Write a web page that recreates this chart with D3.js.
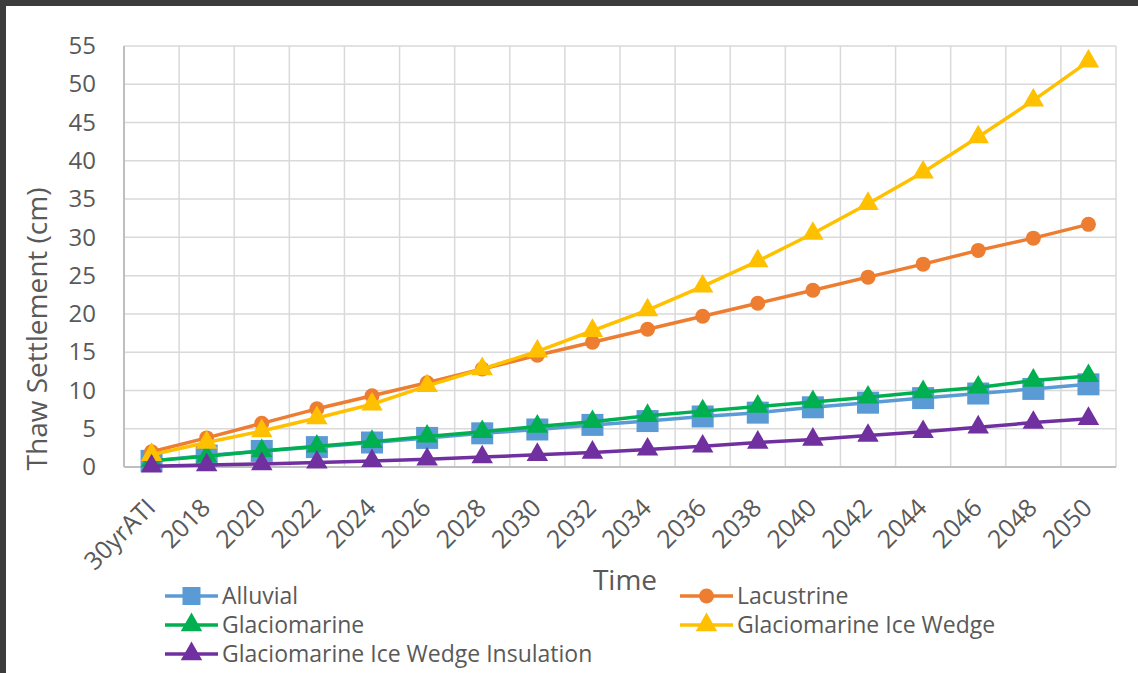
<!DOCTYPE html>
<html>
<head>
<meta charset="utf-8">
<script src="https://cdn.jsdelivr.net/npm/d3@7"></script>
<style>
  html, body { margin: 0; padding: 0; background: #fff; }
  body { width: 1138px; height: 673px; overflow: hidden; }
  svg { display: block; font-family: "Open Sans", "Noto Sans", sans-serif; }
</style>
</head>
<body>
<svg></svg>
<script>
const categories = ["30yrATI", "2018", "2020", "2022", "2024", "2026", "2028", "2030", "2032",
  "2034", "2036", "2038", "2040", "2042", "2044", "2046", "2048", "2050"];
const alluvial = [0.8, 1.5, 2.1, 2.6, 3.2, 3.8, 4.4, 4.9, 5.5, 6.0, 6.6, 7.1, 7.8, 8.4, 9.0, 9.6, 10.2, 10.8];
const lacustrine = [2.0, 3.8, 5.7, 7.6, 9.3, 11.0, 12.8, 14.6, 16.3, 18.0, 19.7, 21.4, 23.1, 24.8, 26.5, 28.3, 29.9, 31.7];
const glaciomarine = [0.8, 1.4, 2.1, 2.7, 3.3, 4.0, 4.6, 5.3, 5.9, 6.7, 7.3, 7.9, 8.5, 9.1, 9.8, 10.4, 11.3, 11.9];
const iceWedge = [1.6, 3.2, 4.7, 6.4, 8.2, 10.6, 12.8, 15.1, 17.8, 20.5, 23.6, 26.9, 30.5, 34.4, 38.5, 43.1, 47.9, 53.0];
const insulation = [0.1, 0.25, 0.4, 0.6, 0.8, 1.0, 1.3, 1.6, 1.9, 2.3, 2.7, 3.2, 3.6, 4.1, 4.6, 5.2, 5.8, 6.3];
const yTicks = [0, 5, 10, 15, 20, 25, 30, 35, 40, 45, 50, 55];

const series = [
  { name: "Alluvial", values: alluvial, color: "#5B9BD5", marker: "square" },
  { name: "Lacustrine", values: lacustrine, color: "#ED7D31", marker: "circle" },
  { name: "Glaciomarine", values: glaciomarine, color: "#00B050", marker: "triangle" },
  { name: "Glaciomarine Ice Wedge", values: iceWedge, color: "#FFC000", marker: "triangle" },
  { name: "Glaciomarine Ice Wedge Insulation", values: insulation, color: "#7030A0", marker: "triangle" }
];

const width = 1138, height = 673;
const margin = { top: 46, right: 22, bottom: 206, left: 124 };
const innerWidth = width - margin.left - margin.right;
const innerHeight = height - margin.top - margin.bottom;
const textColor = "#595959";

const svg = d3.select("svg").attr("width", width).attr("height", height);

// dark frame on top and left
svg.append("rect").attr("x", 0).attr("y", 0).attr("width", width).attr("height", 6).attr("fill", "#3c3c3c");
svg.append("rect").attr("x", 0).attr("y", 0).attr("width", 6).attr("height", height).attr("fill", "#3c3c3c");

const xScale = d3.scaleBand().domain(categories).range([0, innerWidth]);
const yScale = d3.scaleLinear().domain([0, 55]).range([innerHeight, 0]);
const xc = (d, i) => xScale(categories[i]) + xScale.bandwidth() / 2;

const chart = svg.append("g").attr("transform", `translate(${margin.left},${margin.top})`);

// horizontal grid
chart.append("g")
  .selectAll("line")
  .data(yTicks.slice(1))
  .join("line")
  .attr("x1", 0).attr("x2", innerWidth)
  .attr("y1", d => yScale(d)).attr("y2", d => yScale(d))
  .attr("stroke", "#d9d9d9").attr("stroke-width", 1.5);

// vertical grid at category boundaries
const boundaries = categories.slice(1).map(c => xScale(c)).concat([innerWidth]);
chart.append("g")
  .selectAll("line")
  .data(boundaries)
  .join("line")
  .attr("x1", d => d).attr("x2", d => d)
  .attr("y1", 0).attr("y2", innerHeight)
  .attr("stroke", "#d9d9d9").attr("stroke-width", 1.5);

// axes lines
chart.append("line").attr("x1", 0).attr("x2", 0).attr("y1", 0).attr("y2", innerHeight)
  .attr("stroke", "#bfbfbf").attr("stroke-width", 2);
chart.append("line").attr("x1", 0).attr("x2", innerWidth).attr("y1", innerHeight).attr("y2", innerHeight)
  .attr("stroke", "#bfbfbf").attr("stroke-width", 2);

// y axis labels
const yAxisG = chart.append("g")
  .call(d3.axisLeft(yScale).tickValues(yTicks).tickSize(0).tickPadding(28));
yAxisG.select(".domain").remove();
yAxisG.selectAll("text")
  .attr("fill", textColor)
  .style("font-size", "24px")
  .style("font-family", "'Open Sans', sans-serif");

// x axis labels
const xAxisG = chart.append("g").attr("transform", `translate(0,${innerHeight})`)
  .call(d3.axisBottom(xScale).tickSize(0).tickPadding(0));
xAxisG.select(".domain").remove();
xAxisG.selectAll("text")
  .attr("fill", textColor)
  .style("font-size", "25px")
  .style("font-family", "'Open Sans', sans-serif")
  .attr("text-anchor", "end")
  .attr("dy", "0")
  .attr("y", 0)
  .attr("transform", "translate(-10,27) rotate(-45)")
  .attr("dominant-baseline", "hanging");

// axis titles
svg.append("text")
  .attr("transform", "translate(47,329) rotate(-90)")
  .attr("text-anchor", "middle")
  .attr("fill", textColor)
  .style("font-size", "28px")
  .text("Thaw Settlement (cm)");

svg.append("text")
  .attr("x", 625).attr("y", 590)
  .attr("text-anchor", "middle")
  .attr("fill", textColor)
  .style("font-size", "28px")
  .text("Time");

function drawMarker(g, type, color) {
  if (type === "square") {
    g.append("rect").attr("x", -11).attr("y", -11).attr("width", 22).attr("height", 22).attr("fill", color);
  } else if (type === "circle") {
    g.append("circle").attr("r", 7.5).attr("fill", color);
  } else {
    g.append("path").attr("d", d3.symbol(d3.symbolTriangle, 200)()).attr("fill", color);
  }
}

const line = d3.line().x(xc).y(d => yScale(d));

series.forEach(s => {
  const g = chart.append("g");
  g.append("path")
    .datum(s.values)
    .attr("d", line)
    .attr("fill", "none")
    .attr("stroke", s.color)
    .attr("stroke-width", 3.5)
    .attr("stroke-linejoin", "round");
  g.selectAll("g.m")
    .data(s.values)
    .join("g")
    .attr("class", "m")
    .attr("transform", (d, i) => `translate(${xc(d, i)},${yScale(d)})`)
    .each(function () { drawMarker(d3.select(this), s.marker, s.color); });
});

// legend
const legendPos = [
  { x: 165, y: 596 }, { x: 680, y: 596 },
  { x: 165, y: 625 }, { x: 680, y: 625 },
  { x: 165, y: 654 }
];
series.forEach((s, i) => {
  const p = legendPos[i];
  const lg = svg.append("g").attr("transform", `translate(${p.x},${p.y})`);
  lg.append("line").attr("x1", 0).attr("x2", 53).attr("y1", 0).attr("y2", 0)
    .attr("stroke", s.color).attr("stroke-width", 3.5);
  const m = lg.append("g").attr("transform", "translate(26.5,0)");
  if (s.marker === "square") {
    m.append("rect").attr("x", -9).attr("y", -9).attr("width", 18).attr("height", 18).attr("fill", s.color);
  } else {
    drawMarker(m, s.marker, s.color);
  }
  lg.append("text").attr("x", 57).attr("y", 0).attr("dy", "0.36em")
    .attr("fill", textColor)
    .style("font-size", "23px")
    .text(s.name);
});
</script>
</body>
</html>
